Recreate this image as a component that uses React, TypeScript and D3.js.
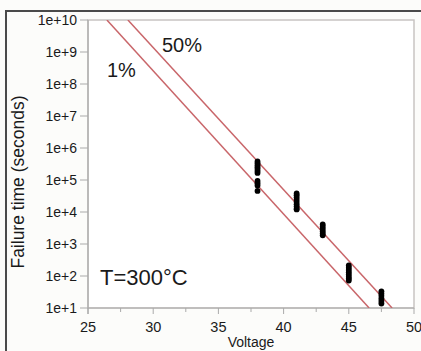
import React, { useLayoutEffect } from "react";
import * as d3 from "d3";

const W = 421;
const H = 351;

// Tick labels
const yTickValues = [1e1, 1e2, 1e3, 1e4, 1e5, 1e6, 1e7, 1e8, 1e9, 1e10];
const yTickLabels = ["1e+1", "1e+2", "1e+3", "1e+4", "1e+5", "1e+6", "1e+7", "1e+8", "1e+9", "1e+10"];
const xMajorTicks = [25, 30, 35, 40, 45, 50];
const xMinorTicks = [27.5, 32.5, 37.5, 42.5, 47.5];

// Observed failure times (log10 seconds) by voltage
const voltages = [38, 41, 43, 45, 47.5];
const logTimes38 = [5.58, 5.52, 5.46, 5.4, 5.34, 5.28, 5.22, 4.97, 4.9, 4.83, 4.66];
const logTimes41 = [4.58, 4.52, 4.45, 4.38, 4.31, 4.24, 4.17, 4.1, 4.08];
const logTimes43 = [3.61, 3.54, 3.47, 3.4, 3.33, 3.27];
const logTimes45 = [2.33, 2.26, 2.19, 2.12, 2.05, 1.98, 1.92, 1.86];
const logTimes475 = [1.52, 1.45, 1.38, 1.3, 1.22, 1.14];
const seriesLogTimes = [logTimes38, logTimes41, logTimes43, logTimes45, logTimes475];

// Fitted percentile lines: [voltage, time] endpoints
const line1pct: [number, number][] = [[26.45, 1e10], [46.56, 1e1]];
const line50pct: [number, number][] = [[28.06, 1e10], [48.32, 1e1]];

export default function App() {
  useLayoutEffect(() => {
    document.body.style.margin = "0";
    document.body.style.padding = "0";
    document.documentElement.style.overflow = "hidden";
  }, []);

  const m = { left: 88, top: 20, right: 414, bottom: 308 };
  const x = d3.scaleLinear().domain([25, 50]).range([m.left, m.right]);
  const y = d3.scaleLog().domain([1e1, 1e10]).range([m.bottom, m.top]);

  const lineGen = d3
    .line<[number, number]>()
    .x((d) => x(d[0]))
    .y((d) => y(d[1]));

  const points: { v: number; t: number }[] = [];
  voltages.forEach((v, i) => {
    seriesLogTimes[i].forEach((lt) => points.push({ v, t: Math.pow(10, lt) }));
  });

  const font = "'Liberation Sans', Arial, Helvetica, sans-serif";

  return (
    <svg width={W} height={H} style={{ display: "block" }} fontFamily={font}>
      <rect x={0} y={0} width={W} height={H} fill="#fcfcfa" />
      <defs>
        <clipPath id="plotclip">
          <rect x={m.left} y={m.top} width={m.right - m.left} height={m.bottom - m.top} />
        </clipPath>
      </defs>
      {/* outer dark border */}
      <rect x={5} y={10} width={W - 5} height={2} fill="#4a4a4a" />
      <rect x={5} y={10} width={2} height={H - 10} fill="#4a4a4a" />

      {/* plot area */}
      <rect
        x={m.left}
        y={m.top}
        width={m.right - m.left}
        height={m.bottom - m.top}
        fill="#ffffff"
        stroke="#c8c4c2"
        strokeWidth={1.5}
      />

      {/* y axis ticks */}
      {yTickValues.map((v, i) => (
        <g key={"y" + i}>
          <line x1={m.left - 8} x2={m.left} y1={y(v)} y2={y(v)} stroke="#aaa" strokeWidth={1} />
          <text
            x={m.left - 11}
            y={y(v)}
            dy="0.35em"
            textAnchor="end"
            fontSize={14}
            fill="#1a1a1a"
          >
            {yTickLabels[i]}
          </text>
        </g>
      ))}
      {/* axis lines */}
      <line x1={m.left} x2={m.left} y1={m.top} y2={m.bottom + 6} stroke="#aaa" strokeWidth={1.2} />
      <line x1={m.left} x2={m.right} y1={m.bottom} y2={m.bottom} stroke="#aaa" strokeWidth={1.2} />

      {/* x ticks */}
      {xMajorTicks.map((v) => (
        <g key={"x" + v}>
          <line x1={x(v)} x2={x(v)} y1={m.bottom} y2={m.bottom + 6} stroke="#aaa" strokeWidth={1} />
          <text x={x(v)} y={m.bottom + 24} textAnchor="middle" fontSize={14.5} fill="#1a1a1a">
            {v}
          </text>
        </g>
      ))}
      {xMinorTicks.map((v) => (
        <line key={"xm" + v} x1={x(v)} x2={x(v)} y1={m.bottom} y2={m.bottom + 4} stroke="#aaa" strokeWidth={1} />
      ))}

      {/* axis titles */}
      <text x={(m.left + m.right) / 2} y={H - 4} textAnchor="middle" fontSize={14} fill="#1a1a1a">
        Voltage
      </text>
      <text
        transform={`translate(24, 182) rotate(-90)`}
        textAnchor="middle"
        fontSize={17.5}
        fill="#1a1a1a"
      >
        Failure time (seconds)
      </text>

      {/* fitted lines */}
      <g clipPath="url(#plotclip)">
        <path d={lineGen(line1pct) || ""} fill="none" stroke="#c9666a" strokeWidth={1.5} />
        <path d={lineGen(line50pct) || ""} fill="none" stroke="#c9666a" strokeWidth={1.5} />
      </g>

      {/* data points */}
      {points.map((p, i) => (
        <circle key={"p" + i} cx={x(p.v)} cy={y(p.t)} r={2.9} fill="#000" />
      ))}

      {/* annotations */}
      <text x={162} y={52} fontSize={20} fill="#1a1a1a">50%</text>
      <text x={107} y={77} fontSize={20} fill="#1a1a1a">1%</text>
      <text x={100} y={285} fontSize={22} fill="#1a1a1a">T=300°C</text>
    </svg>
  );
}
